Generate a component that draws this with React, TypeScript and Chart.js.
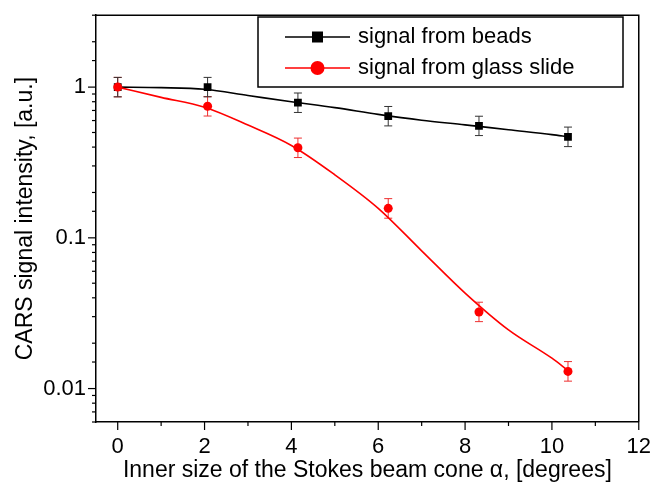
import React, { useEffect, useRef } from 'react';
import { Chart, registerables } from 'chart.js';

Chart.register(...registerables);

const FONT = "Arial, 'Liberation Sans', Helvetica, sans-serif";

// Measured data points (cone angle in degrees, CARS signal in a.u.)
const coneAngles = [0, 2.07, 4.15, 6.23, 8.32, 10.37];
const beadsSignal = [1.0, 1.0, 0.788, 0.641, 0.553, 0.468];
const beadsErrLow = [0.862, 0.862, 0.679, 0.553, 0.477, 0.403];
const beadsErrHigh = [1.16, 1.16, 0.914, 0.744, 0.641, 0.543];
const glassSignal = [1.0, 0.746, 0.396, 0.157, 0.0322, 0.013];
const glassErrLow = [0.862, 0.643, 0.341, 0.135, 0.0278, 0.0112];
const glassErrHigh = [1.16, 0.865, 0.459, 0.182, 0.0374, 0.0151];

// Fitted curves
const fitAngles = [0, 1, 2, 3, 4, 5, 6, 7, 8, 9, 10, 10.37];
const beadsFit = [1.0, 0.992, 0.967, 0.879, 0.799, 0.731, 0.659, 0.603, 0.562, 0.521, 0.484, 0.468];
const glassFit = [1.0, 0.855, 0.735, 0.56, 0.41, 0.262, 0.157, 0.082, 0.043, 0.0245, 0.0159, 0.0132];

// Axis settings
const xMin = -0.5;
const xMax = 12;
const yMin = 0.006;
const yMax = 3;
const yLabelValues = [1, 0.1, 0.01];
const xLabelValues = [0, 2, 4, 6, 8, 10, 12];

const beadsLabel = 'signal from beads';
const glassLabel = 'signal from glass slide';
const xTitle = 'Inner size of the Stokes beam cone \u03b1, [degrees]';
const yTitle = 'CARS signal intensity, [a.u.]';

const toPoints = (xs: number[], ys: number[]) => xs.map((x, i) => ({ x, y: ys[i] }));

const isPow10 = (v: number) => Math.abs(Math.log10(v) - Math.round(Math.log10(v))) < 1e-6;

export default function App() {
  const ref = useRef<HTMLCanvasElement>(null);

  useEffect(() => {
    const canvas = ref.current;
    if (!canvas) return;

    const errorBars = {
      id: 'errorBars',
      beforeDatasetsDraw(chart: any) {
        const ctx = chart.ctx;
        const xs = chart.scales.x;
        const ys = chart.scales.y;
        chart.data.datasets.forEach((ds: any) => {
          if (!ds.errLow) return;
          ctx.save();
          ctx.strokeStyle = ds.errColor;
          ctx.lineWidth = 1;
          ds.data.forEach((p: any, i: number) => {
            const px = xs.getPixelForValue(p.x);
            const lo = ys.getPixelForValue(ds.errLow[i]);
            const hi = ys.getPixelForValue(ds.errHigh[i]);
            ctx.beginPath();
            ctx.moveTo(px, lo);
            ctx.lineTo(px, hi);
            ctx.moveTo(px - 4, lo);
            ctx.lineTo(px + 4, lo);
            ctx.moveTo(px - 4, hi);
            ctx.lineTo(px + 4, hi);
            ctx.stroke();
          });
          ctx.restore();
        });
      },
    };

    const axisDecor = {
      id: 'axisDecor',
      afterDraw(chart: any) {
        const ctx = chart.ctx;
        const { left, right, top, bottom } = chart.chartArea;
        ctx.save();
        ctx.strokeStyle = '#000';
        ctx.lineWidth = 1.5;
        ctx.beginPath();
        ctx.moveTo(left, top);
        ctx.lineTo(right, top);
        ctx.lineTo(right, bottom);
        ctx.stroke();
        ctx.lineWidth = 1.2;
        const xs = chart.scales.x;
        xs.ticks.forEach((t: any) => {
          const v = Math.round(t.value * 1000) / 1000;
          if (!Number.isInteger(v)) return;
          const px = xs.getPixelForValue(v);
          const len = v % 2 === 0 ? 8 : 4;
          ctx.beginPath();
          ctx.moveTo(px, bottom);
          ctx.lineTo(px, bottom + len);
          ctx.stroke();
        });
        const ys = chart.scales.y;
        ys.ticks.forEach((t: any) => {
          const py = ys.getPixelForValue(t.value);
          if (py < top - 0.5 || py > bottom + 0.5) return;
          const len = isPow10(t.value) ? 8 : 4;
          ctx.beginPath();
          ctx.moveTo(left, py);
          ctx.lineTo(left - len, py);
          ctx.stroke();
        });
        ctx.restore();
      },
    };

    const legendBox = {
      id: 'legendBox',
      afterDraw(chart: any) {
        const ctx = chart.ctx;
        ctx.save();
        ctx.strokeStyle = '#000';
        ctx.lineWidth = 1.5;
        ctx.strokeRect(258, 17, 365, 70);
        const items = [
          { ds: chart.data.datasets[1], y: 37, style: 'rect' },
          { ds: chart.data.datasets[0], y: 68, style: 'circle' },
        ];
        items.forEach((it) => {
          ctx.strokeStyle = it.ds.backgroundColor;
          ctx.fillStyle = it.ds.backgroundColor;
          ctx.lineWidth = 1.5;
          ctx.beginPath();
          ctx.moveTo(285, it.y);
          ctx.lineTo(350, it.y);
          ctx.stroke();
          if (it.style === 'rect') {
            ctx.fillRect(317.5 - 5.5, it.y - 5.5, 11, 11);
          } else {
            ctx.beginPath();
            ctx.arc(317.5, it.y, 7, 0, Math.PI * 2);
            ctx.fill();
          }
          ctx.fillStyle = '#000';
          ctx.font = `22px ${FONT}`;
          ctx.textBaseline = 'middle';
          ctx.textAlign = 'left';
          ctx.fillText(it.ds.label, 358, it.y);
        });
        ctx.restore();
      },
    };

    const chart = new Chart(canvas, {
      type: 'scatter',
      data: {
        datasets: [
          {
            label: glassLabel,
            data: toPoints(coneAngles, glassSignal),
            showLine: false,
            pointStyle: 'circle',
            pointRadius: 4.5,
            pointBorderWidth: 0,
            backgroundColor: '#ff0000',
            borderColor: '#ff0000',
            errLow: glassErrLow,
            errHigh: glassErrHigh,
            errColor: '#ee3030',
          } as any,
          {
            label: beadsLabel,
            data: toPoints(coneAngles, beadsSignal),
            showLine: false,
            pointStyle: 'rect',
            pointRadius: 5.5,
            pointBorderWidth: 0,
            backgroundColor: '#000000',
            borderColor: '#000000',
            errLow: beadsErrLow,
            errHigh: beadsErrHigh,
            errColor: '#333333',
          } as any,
          {
            label: 'glass fit',
            data: toPoints(fitAngles, glassFit),
            showLine: true,
            pointRadius: 0,
            borderColor: '#ff0000',
            borderWidth: 1.6,
            cubicInterpolationMode: 'monotone',
          },
          {
            label: 'beads fit',
            data: toPoints(fitAngles, beadsFit),
            showLine: true,
            pointRadius: 0,
            borderColor: '#000000',
            borderWidth: 1.6,
            cubicInterpolationMode: 'monotone',
          },
        ],
      },
      options: {
        responsive: false,
        animation: false,
        devicePixelRatio: 1,
        layout: { padding: { top: 13, right: 15, left: 0, bottom: 0 } },
        plugins: {
          legend: { display: false },
          tooltip: { enabled: false },
        },
        scales: {
          x: {
            type: 'linear',
            min: xMin,
            max: xMax,
            afterFit: (s: any) => {
              s.height = 65;
            },
            ticks: {
              stepSize: 1,
              includeBounds: false,
              autoSkip: false,
              maxRotation: 0,
              padding: 4,
              color: '#000',
              font: { family: FONT, size: 22 },
              callback: (v: any) => {
                const r = Math.round(Number(v) * 1000) / 1000;
                return xLabelValues.includes(r) ? String(r) : '';
              },
            },
            grid: {
              display: true,
              drawOnChartArea: false,
              drawTicks: true,
              tickLength: 8,
              color: 'rgba(0,0,0,0)',
            },
            border: { display: true, color: '#000', width: 1.5 },
            title: {
              display: true,
              text: xTitle,
              color: '#000',
              font: { family: FONT, size: 23 },
              padding: { top: 0, bottom: 3 },
            },
          },
          y: {
            type: 'logarithmic',
            min: yMin,
            max: yMax,
            afterFit: (s: any) => {
              s.width = 96;
            },
            ticks: {
              autoSkip: false,
              padding: 2,
              color: '#000',
              font: { family: FONT, size: 22 },
              callback: (v: any) => {
                const n = Number(v);
                const hit = yLabelValues.find((l) => Math.abs(l - n) / l < 1e-6);
                return hit !== undefined ? String(hit) : '';
              },
            },
            grid: {
              display: true,
              drawOnChartArea: false,
              drawTicks: true,
              tickLength: 8,
              color: 'rgba(0,0,0,0)',
            },
            border: { display: true, color: '#000', width: 1.5 },
            title: {
              display: true,
              text: yTitle,
              color: '#000',
              font: { family: FONT, size: 23 },
              padding: { top: 12, bottom: 0 },
            },
          },
        },
      } as any,
      plugins: [errorBars, axisDecor, legendBox],
    });

    return () => chart.destroy();
  }, []);

  return (
    <div style={{ position: 'fixed', left: 0, top: 0, width: 655, height: 487, background: '#fff' }}>
      <canvas ref={ref} width={655} height={487} style={{ display: 'block', width: 655, height: 487 }} />
    </div>
  );
}
